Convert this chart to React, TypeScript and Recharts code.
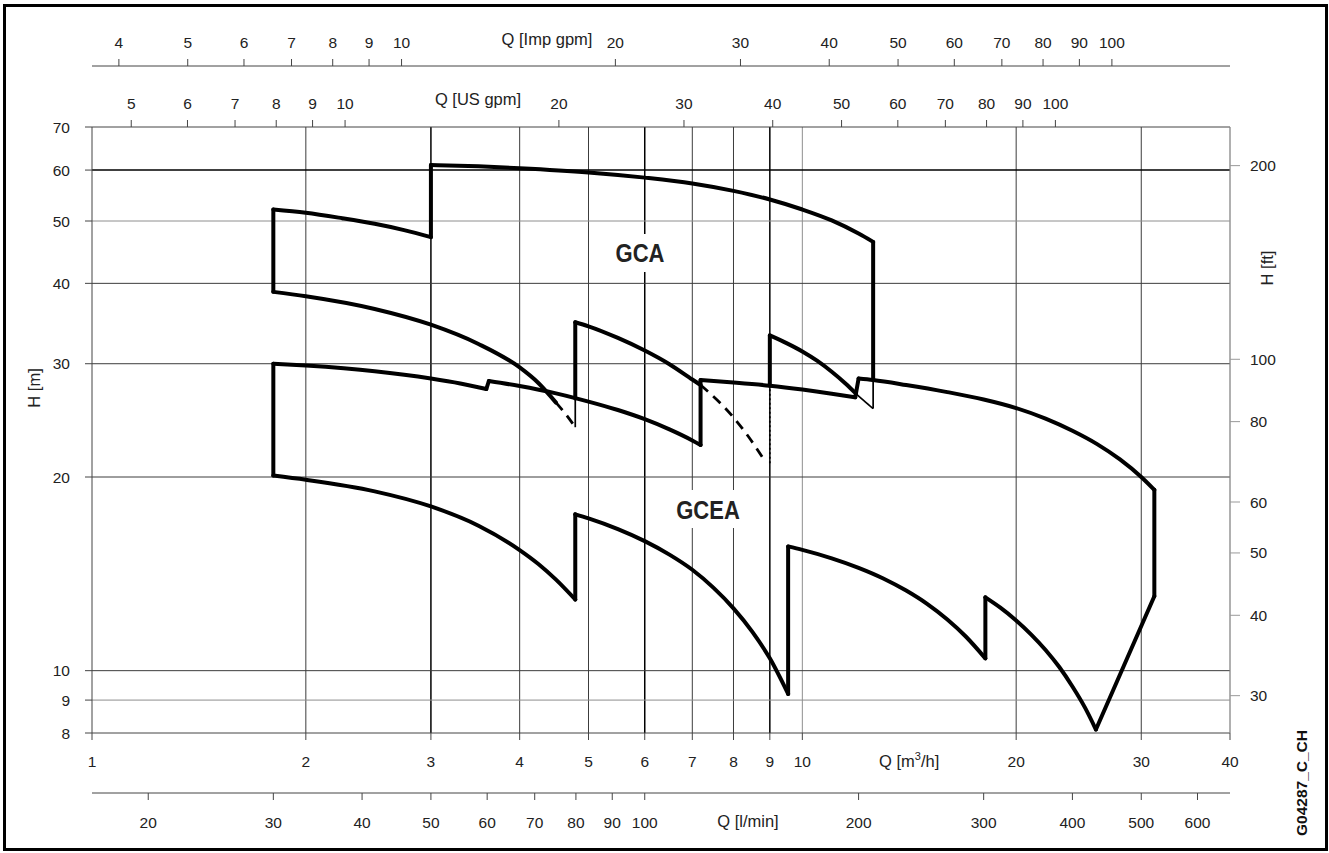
import React from 'react';
import { LineChart, Line, XAxis, YAxis, ReferenceLine } from 'recharts';

// ---------- axis ticks ----------
const Q_TICKS = [1, 2, 3, 4, 5, 6, 7, 8, 9, 10, 20, 30, 40];
const H_TICKS = [8, 9, 10, 20, 30, 40, 50, 60, 70];
const US_TICKS = [5, 6, 7, 8, 9, 10, 20, 30, 40, 50, 60, 70, 80, 90, 100];
const IMP_TICKS = [4, 5, 6, 7, 8, 9, 10, 20, 30, 40, 50, 60, 70, 80, 90, 100];
const LMIN_TICKS = [20, 30, 40, 50, 60, 70, 80, 90, 100, 200, 300, 400, 500, 600];
const FT_TICKS = [30, 40, 50, 60, 80, 100, 200];

const Q_RANGE = [1, 40];
const H_RANGE = [8, 70];
const US_PER_M3H = 4.40287;
const IMP_PER_M3H = 3.66615;
const LMIN_PER_M3H = 16.6667;
const FT_PER_M = 3.28084;

// grid lines
const GRID_Q = [2, 3, 4, 5, 6, 7, 8, 9, 10, 20, 30, 40];
const GRID_H = [9, 10, 20, 30, 40, 50, 60];
const GRID_Q_DARK = [3, 6, 9];
const GRID_H_DARK = [60];
const GRID_Q_LIGHT = [10, 40];
const GRID_H_LIGHT = [50, 9];

// ---------- GCA field (Q m3/h, H m) ----------
const GCA_LEFT_EDGE = [[1.8, 38.8], [1.8, 52.1]];
const GCA_TOP_1 = [[1.8, 52.1], [2, 51.5], [2.25, 50.5], [2.5, 49.5], [2.75, 48.4], [3, 47.2]];
const GCA_STEP_1 = [[3, 47.2], [3, 61.1]];
const GCA_TOP_2 = [[3, 61.1], [3.5, 60.8], [4, 60.4], [5, 59.5], [6, 58.4], [7, 57.2], [8, 55.7], [9, 54.0], [10, 52.1], [11, 50.1], [12, 47.8], [12.58, 46.4]];
const GCA_RIGHT_EDGE = [[12.58, 46.4], [12.58, 28.3]];
const GCA_RIGHT_TAIL = [[12.58, 28.3], [12.58, 25.55]];
const GCA_LOW_1 = [[1.8, 38.8], [2, 38.2], [2.5, 36.5], [3, 34.5], [3.5, 32.2], [4, 29.6], [4.25, 28.0], [4.5, 26.1]];
const GCA_LOW_1_DASH = [[4.5, 26.1], [4.65, 25.0], [4.79, 23.9]];
const GCA_TICK_1 = [[4.79, 23.9], [4.79, 26.5]];
const GCA_EDGE_2 = [[4.79, 26.5], [4.79, 34.8]];
const GCA_MID_2 = [[4.79, 34.8], [5, 34.3], [5.5, 32.9], [6, 31.45], [6.5, 29.95], [7, 28.35], [7.19, 27.8]];
const GCA_MID_2_DASH = [[7.19, 27.8], [7.6, 26.3], [8, 24.75], [8.4, 23.1], [8.85, 21.2]];
const GCA_TICK_2 = [[9, 21.0], [9, 27.73]];
const GCA_EDGE_3 = [[9, 27.73], [9, 33.2]];
const GCA_MID_3 = [[9, 33.2], [9.5, 32.3], [10, 31.35], [10.5, 30.3], [11, 29.15], [11.5, 27.95], [11.9, 26.95]];
const GCA_MID_3_TAIL = [[11.9, 26.95], [12.25, 26.2], [12.58, 25.55]];

// ---------- GCEA field ----------
const GCEA_LEFT_EDGE = [[1.8, 20.1], [1.8, 30]];
const GCEA_TOP_1 = [[1.8, 30], [2, 29.8], [2.5, 29.2], [3, 28.45], [3.3, 27.95], [3.59, 27.4]];
const GCEA_STEP_1 = [[3.59, 27.4], [3.62, 28.2]];
const GCEA_TOP_2 = [[3.62, 28.2], [4, 27.7], [4.5, 26.98], [4.79, 26.53], [5, 26.2], [5.5, 25.42], [6, 24.6], [6.5, 23.72], [7, 22.8], [7.19, 22.43]];
const GCEA_STEP_2 = [[7.19, 22.43], [7.19, 28.3]];
const GCEA_TOP_3 = [[7.19, 28.3], [8, 28.05], [9, 27.73], [10, 27.35], [11, 26.95], [11.87, 26.6]];
const GCEA_STEP_3 = [[11.87, 26.6], [12.0, 28.45]];
const GCEA_TOP_4 = [[12.0, 28.45], [12.58, 28.3], [14, 27.8], [16, 27.1], [18, 26.4], [20, 25.6], [22, 24.65], [24, 23.6], [26, 22.5], [28, 21.3], [30, 20.0], [31.3, 19.1]];
const GCEA_RIGHT_EDGE = [[31.3, 19.1], [31.3, 13.05]];
const GCEA_RIGHT_DIAG = [[25.9, 8.1], [31.3, 13.05]];
const GCEA_LOW_1 = [[1.8, 20.1], [2, 19.8], [2.5, 19.0], [3, 18.0], [3.5, 16.8], [4, 15.4], [4.25, 14.65], [4.5, 13.85], [4.79, 12.9]];
const GCEA_STEP_L1 = [[4.79, 12.9], [4.79, 17.5]];
const GCEA_LOW_2 = [[4.79, 17.5], [5, 17.25], [5.5, 16.6], [6, 15.9], [6.5, 15.15], [7, 14.35], [7.5, 13.45], [8, 12.5], [8.5, 11.5], [9, 10.45], [9.55, 9.2]];
const GCEA_STEP_L2 = [[9.55, 9.2], [9.55, 15.6]];
const GCEA_LOW_3 = [[9.55, 15.6], [10, 15.41], [11, 14.95], [12, 14.45], [13, 13.91], [14, 13.32], [15, 12.69], [16, 12.01], [17, 11.29], [18.1, 10.45]];
const GCEA_STEP_L3 = [[18.1, 10.45], [18.1, 13.0]];
const GCEA_LOW_4 = [[18.1, 13.0], [19, 12.53], [20, 11.97], [21, 11.38], [22, 10.77], [23, 10.13], [24, 9.45], [25, 8.76], [25.9, 8.1]];

type Kind = 'thick' | 'thin' | 'dash' | 'dot';
const SEGMENTS: { id: string; pts: number[][]; kind: Kind; smooth: boolean }[] = [
  { id: 'gca-le', pts: GCA_LEFT_EDGE, kind: 'thick', smooth: false },
  { id: 'gca-t1', pts: GCA_TOP_1, kind: 'thick', smooth: true },
  { id: 'gca-s1', pts: GCA_STEP_1, kind: 'thick', smooth: false },
  { id: 'gca-t2', pts: GCA_TOP_2, kind: 'thick', smooth: true },
  { id: 'gca-re', pts: GCA_RIGHT_EDGE, kind: 'thick', smooth: false },
  { id: 'gca-rt', pts: GCA_RIGHT_TAIL, kind: 'thin', smooth: false },
  { id: 'gca-l1', pts: GCA_LOW_1, kind: 'thick', smooth: true },
  { id: 'gca-l1d', pts: GCA_LOW_1_DASH, kind: 'dash', smooth: true },
  { id: 'gca-k1', pts: GCA_TICK_1, kind: 'thin', smooth: false },
  { id: 'gca-e2', pts: GCA_EDGE_2, kind: 'thick', smooth: false },
  { id: 'gca-m2', pts: GCA_MID_2, kind: 'thick', smooth: true },
  { id: 'gca-m2d', pts: GCA_MID_2_DASH, kind: 'dash', smooth: true },
  { id: 'gca-k2', pts: GCA_TICK_2, kind: 'dot', smooth: false },
  { id: 'gca-e3', pts: GCA_EDGE_3, kind: 'thick', smooth: false },
  { id: 'gca-m3', pts: GCA_MID_3, kind: 'thick', smooth: true },
  { id: 'gca-m3t', pts: GCA_MID_3_TAIL, kind: 'thin', smooth: true },
  { id: 'gcea-le', pts: GCEA_LEFT_EDGE, kind: 'thick', smooth: false },
  { id: 'gcea-t1', pts: GCEA_TOP_1, kind: 'thick', smooth: true },
  { id: 'gcea-s1', pts: GCEA_STEP_1, kind: 'thick', smooth: false },
  { id: 'gcea-t2', pts: GCEA_TOP_2, kind: 'thick', smooth: true },
  { id: 'gcea-s2', pts: GCEA_STEP_2, kind: 'thick', smooth: false },
  { id: 'gcea-t3', pts: GCEA_TOP_3, kind: 'thick', smooth: true },
  { id: 'gcea-s3', pts: GCEA_STEP_3, kind: 'thick', smooth: false },
  { id: 'gcea-t4', pts: GCEA_TOP_4, kind: 'thick', smooth: true },
  { id: 'gcea-re', pts: GCEA_RIGHT_EDGE, kind: 'thick', smooth: false },
  { id: 'gcea-rd', pts: GCEA_RIGHT_DIAG, kind: 'thick', smooth: false },
  { id: 'gcea-l1', pts: GCEA_LOW_1, kind: 'thick', smooth: true },
  { id: 'gcea-sl1', pts: GCEA_STEP_L1, kind: 'thick', smooth: false },
  { id: 'gcea-l2', pts: GCEA_LOW_2, kind: 'thick', smooth: true },
  { id: 'gcea-sl2', pts: GCEA_STEP_L2, kind: 'thick', smooth: false },
  { id: 'gcea-l3', pts: GCEA_LOW_3, kind: 'thick', smooth: true },
  { id: 'gcea-sl3', pts: GCEA_STEP_L3, kind: 'thick', smooth: false },
  { id: 'gcea-l4', pts: GCEA_LOW_4, kind: 'thick', smooth: true },
];

const STYLE: Record<Kind, { w: number; dash?: string; cap: 'round' | 'butt' }> = {
  thick: { w: 4, cap: 'round' },
  thin: { w: 1.7, cap: 'butt' },
  dash: { w: 2.8, dash: '10 7', cap: 'butt' },
  dot: { w: 1.7, dash: '2 2.5', cap: 'butt' },
};

// all field points, re-expressed in the secondary units (used by invisible helper series
// so that every secondary axis has data of its own)
const ALL_POINTS = SEGMENTS.flatMap((s) => s.pts);
const inUnit = (f: number) => ALL_POINTS.map(([q, h]) => ({ q: q * f, h }));

const FONT = '"Liberation Sans", Arial, Helvetica, sans-serif';
const TICK = { fill: '#222', fontSize: 15.5, fontFamily: FONT };
const AX = '#444';

const gridColor = (v: number, dark: number[], light: number[]) =>
  dark.includes(v) ? '#000' : light.includes(v) ? '#8e8e8e' : '#3c3c3c';

export default function App() {
  return (
    <div style={{ position: 'absolute', left: 0, top: 0, width: 1329, height: 853, background: '#fff', fontFamily: FONT }}>
      <LineChart width={1329} height={853} margin={{ top: 16, right: 29, bottom: 15, left: 0 }}>
        <XAxis xAxisId="b_lmin" dataKey="q" type="number" scale="log"
          domain={[Q_RANGE[0] * LMIN_PER_M3H, Q_RANGE[1] * LMIN_PER_M3H]} allowDataOverflow
          ticks={LMIN_TICKS} interval={0} orientation="bottom" height={45} tickSize={7} tickMargin={17}
          stroke={AX} tick={TICK} />
        <XAxis xAxisId="a_m3h" dataKey="q" type="number" scale="log" domain={Q_RANGE} allowDataOverflow
          ticks={Q_TICKS} interval={0} orientation="bottom" height={60} tickSize={7} tickMargin={16}
          stroke={AX} tick={TICK} />
        <XAxis xAxisId="b_imp" dataKey="q" type="number" scale="log"
          domain={[Q_RANGE[0] * IMP_PER_M3H, Q_RANGE[1] * IMP_PER_M3H]} allowDataOverflow
          ticks={IMP_TICKS} interval={0} orientation="top" height={50} tickSize={7} tickMargin={11}
          stroke={AX} tick={TICK} />
        <XAxis xAxisId="a_us" dataKey="q" type="number" scale="log"
          domain={[Q_RANGE[0] * US_PER_M3H, Q_RANGE[1] * US_PER_M3H]} allowDataOverflow
          ticks={US_TICKS} interval={0} orientation="top" height={61} tickSize={7} tickMargin={11}
          stroke={AX} tick={TICK} />
        <YAxis yAxisId="m" type="number" scale="log" domain={H_RANGE} allowDataOverflow
          ticks={H_TICKS} interval={0} orientation="left" width={92} tickSize={7} tickMargin={15}
          stroke={AX} tick={TICK} />
        <YAxis yAxisId="ft" type="number" scale="log"
          domain={[H_RANGE[0] * FT_PER_M, H_RANGE[1] * FT_PER_M]} allowDataOverflow
          ticks={FT_TICKS} interval={0} orientation="right" width={70} tickSize={10} tickMargin={10}
          stroke="#999" tick={TICK} />

        {GRID_Q.map((q) => (
          <ReferenceLine key={'gq' + q} xAxisId="a_m3h" yAxisId="m" x={q}
            stroke={gridColor(q, GRID_Q_DARK, GRID_Q_LIGHT)} strokeWidth={GRID_Q_DARK.includes(q) ? 1.5 : 1} />
        ))}
        {GRID_H.map((h) => (
          <ReferenceLine key={'gh' + h} xAxisId="a_m3h" yAxisId="m" y={h}
            stroke={gridColor(h, GRID_H_DARK, GRID_H_LIGHT)} strokeWidth={GRID_H_DARK.includes(h) ? 1.5 : 1} />
        ))}

        <Line xAxisId="b_lmin" yAxisId="m" data={inUnit(LMIN_PER_M3H)} dataKey="h" stroke="none"
          dot={false} activeDot={false} isAnimationActive={false} legendType="none" />
        <Line xAxisId="b_imp" yAxisId="m" data={inUnit(IMP_PER_M3H)} dataKey="h" stroke="none"
          dot={false} activeDot={false} isAnimationActive={false} legendType="none" />
        <Line xAxisId="a_us" yAxisId="m" data={inUnit(US_PER_M3H)} dataKey="h" stroke="none"
          dot={false} activeDot={false} isAnimationActive={false} legendType="none" />

        {SEGMENTS.map((s) => {
          const st = STYLE[s.kind];
          return (
            <Line key={s.id} xAxisId="a_m3h" yAxisId="m" data={s.pts.map(([q, h]) => ({ q, h }))}
              dataKey="h" type={s.smooth ? 'monotone' : 'linear'} stroke="#000" strokeWidth={st.w}
              strokeDasharray={st.dash} strokeLinecap={st.cap} strokeLinejoin="round"
              dot={false} activeDot={false} isAnimationActive={false} legendType="none" />
          );
        })}
      </LineChart>

      <svg width={1329} height={853} style={{ position: 'absolute', left: 0, top: 0, pointerEvents: 'none' }}>
        <g fontFamily={FONT} fill="#222" fontSize={16.5}>
          <text x={547} y={45} textAnchor="middle">Q [Imp gpm]</text>
          <text x={478} y={105} textAnchor="middle">Q [US gpm]</text>
          <text x={879} y={767}>Q [m<tspan dy={-7} fontSize={11}>3</tspan><tspan dy={7}>/h]</tspan></text>
          <text x={748} y={827} textAnchor="middle">Q [l/min]</text>
          <text transform="translate(40,388) rotate(-90)" textAnchor="middle">H [m]</text>
          <text transform="translate(1273,268) rotate(-90)" textAnchor="middle">H [ft]</text>
          <text transform="translate(1307,783) rotate(-90)" textAnchor="middle" fontWeight="bold" fontSize={15.5} fill="#111">G04287_C_CH</text>
        </g>
        <rect x={608} y={234} width={64} height={38} fill="#fff" />
        <text transform="translate(640,262) scale(0.88,1)" textAnchor="middle" fontFamily={FONT} fontWeight="bold" fontSize={25} fill="#222">GCA</text>
        <rect x={672} y={490} width={72} height={38} fill="#fff" />
        <text transform="translate(708,519) scale(0.88,1)" textAnchor="middle" fontFamily={FONT} fontWeight="bold" fontSize={25} fill="#222">GCEA</text>
      </svg>

      <div style={{ position: 'absolute', left: 3, top: 4, width: 1325, height: 847, border: '3px solid #000', boxSizing: 'border-box', pointerEvents: 'none' }} />
    </div>
  );
}
